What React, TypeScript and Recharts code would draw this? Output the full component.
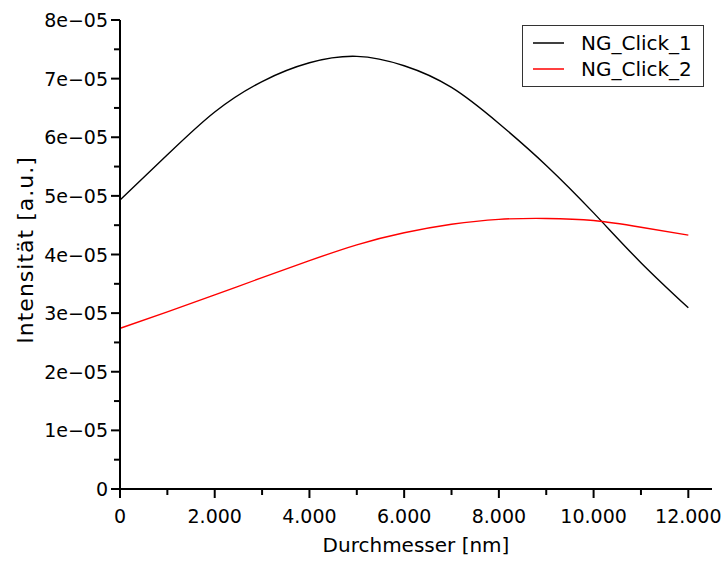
import React from 'react';
import { LineChart, Line, XAxis, YAxis, Legend } from 'recharts';

const FONT = '"DejaVu Sans", sans-serif';

const diameters = [0, 1000, 2000, 3000, 4000, 5000, 6000, 7000, 8000, 9000, 10000, 11000, 12000];
const ngClick1 = [4.93e-5, 5.7e-5, 6.43e-5, 6.95e-5, 7.27e-5, 7.38e-5, 7.22e-5, 6.85e-5, 6.235e-5, 5.52e-5, 4.71e-5, 3.86e-5, 3.09e-5];
const ngClick2 = [2.74e-5, 3.02e-5, 3.31e-5, 3.605e-5, 3.895e-5, 4.165e-5, 4.37e-5, 4.515e-5, 4.6e-5, 4.615e-5, 4.58e-5, 4.465e-5, 4.33e-5];

const seriesNames = ['NG_Click_1', 'NG_Click_2'];
const seriesColors = ['#000000', '#ff0000'];

const xTicks = [0, 1000, 2000, 3000, 4000, 5000, 6000, 7000, 8000, 9000, 10000, 11000, 12000];
const xTickLabels = ['0', '2.000', '4.000', '6.000', '8.000', '10.000', '12.000'];
const yTicks = [0, 0.5e-5, 1e-5, 1.5e-5, 2e-5, 2.5e-5, 3e-5, 3.5e-5, 4e-5, 4.5e-5, 5e-5, 5.5e-5, 6e-5, 6.5e-5, 7e-5, 7.5e-5, 8e-5];
const yTickLabels = ['0', '1e\u221205', '2e\u221205', '3e\u221205', '4e\u221205', '5e\u221205', '6e\u221205', '7e\u221205', '8e\u221205'];

const data = diameters.map((d, i) => ({ d, ng1: ngClick1[i], ng2: ngClick2[i] }));

const XTick = (props: any) => {
  const { x, y, payload } = props;
  const v = payload.value as number;
  const major = v % 2000 === 0;
  return (
    <g>
      <line x1={x} x2={x} y1={y} y2={y + (major ? 9 : 6)} stroke="#000" strokeWidth={2} />
      {major && (
        <text x={x} y={y + 34} textAnchor="middle" fontFamily={FONT} fontSize={19} fill="#000">
          {xTickLabels[v / 2000]}
        </text>
      )}
    </g>
  );
};

const YTick = (props: any) => {
  const { x, y, payload } = props;
  const idx = Math.round((payload.value as number) / 0.5e-5);
  const major = idx % 2 === 0;
  return (
    <g>
      <line x1={x - (major ? 9 : 6)} x2={x} y1={y} y2={y} stroke="#000" strokeWidth={2} />
      {major && (
        <text x={x - 12} y={y + 7} textAnchor="end" fontFamily={FONT} fontSize={19} fill="#000">
          {yTickLabels[idx / 2]}
        </text>
      )}
    </g>
  );
};

const XTitle = () => (
  <text x={416} y={552} textAnchor="middle" fontFamily={FONT} fontSize={20} fill="#000">
    Durchmesser [nm]
  </text>
);

const YTitle = () => (
  <text
    x={33}
    y={250}
    transform="rotate(-90, 33, 250)"
    textAnchor="middle"
    fontFamily={FONT}
    fontSize={22}
    letterSpacing={1}
    fill="#000"
  >
    Intensität [a.u.]
  </text>
);

const LegendBox = () => (
  <div
    style={{
      width: 182,
      height: 62,
      boxSizing: 'border-box',
      border: '1px solid #333',
      background: '#fff',
      paddingTop: 4,
      fontFamily: FONT,
      fontSize: 20,
    }}
  >
    {seriesNames.map((name, i) => (
      <div key={name} style={{ display: 'flex', alignItems: 'center', height: 26 }}>
        <svg width={58} height={26}>
          <line x1={10} x2={41} y1={13} y2={13} stroke={seriesColors[i]} strokeWidth={1.5} />
        </svg>
        <span style={{ color: '#000' }}>{name}</span>
      </div>
    ))}
  </div>
);

export default function App() {
  return (
    <div style={{ position: 'absolute', left: 0, top: 0, background: '#fff' }}>
      <LineChart width={725} height={562} data={data} margin={{ top: 20, right: 13, left: 0, bottom: 0 }}>
        <XAxis
          dataKey="d"
          type="number"
          domain={[0, 12500]}
          ticks={xTicks}
          interval={0}
          tickSize={0}
          tickMargin={0}
          tick={<XTick />}
          height={73}
          axisLine={{ stroke: '#000', strokeWidth: 2 }}
          label={<XTitle />}
        />
        <YAxis
          type="number"
          domain={[0, 8e-5]}
          ticks={yTicks}
          interval={0}
          tickSize={0}
          tickMargin={0}
          tick={<YTick />}
          width={120}
          axisLine={{ stroke: '#000', strokeWidth: 2 }}
          label={<YTitle />}
        />
        <Legend
          layout="horizontal"
          verticalAlign="middle"
          align="center"
          content={<LegendBox />}
          wrapperStyle={{ left: 522, top: 25, width: 182, height: 62 }}
        />
        <Line
          type="natural"
          dataKey="ng1"
          name={seriesNames[0]}
          stroke={seriesColors[0]}
          strokeWidth={1.4}
          dot={false}
          isAnimationActive={false}
        />
        <Line
          type="natural"
          dataKey="ng2"
          name={seriesNames[1]}
          stroke={seriesColors[1]}
          strokeWidth={1.4}
          dot={false}
          isAnimationActive={false}
        />
      </LineChart>
    </div>
  );
}
